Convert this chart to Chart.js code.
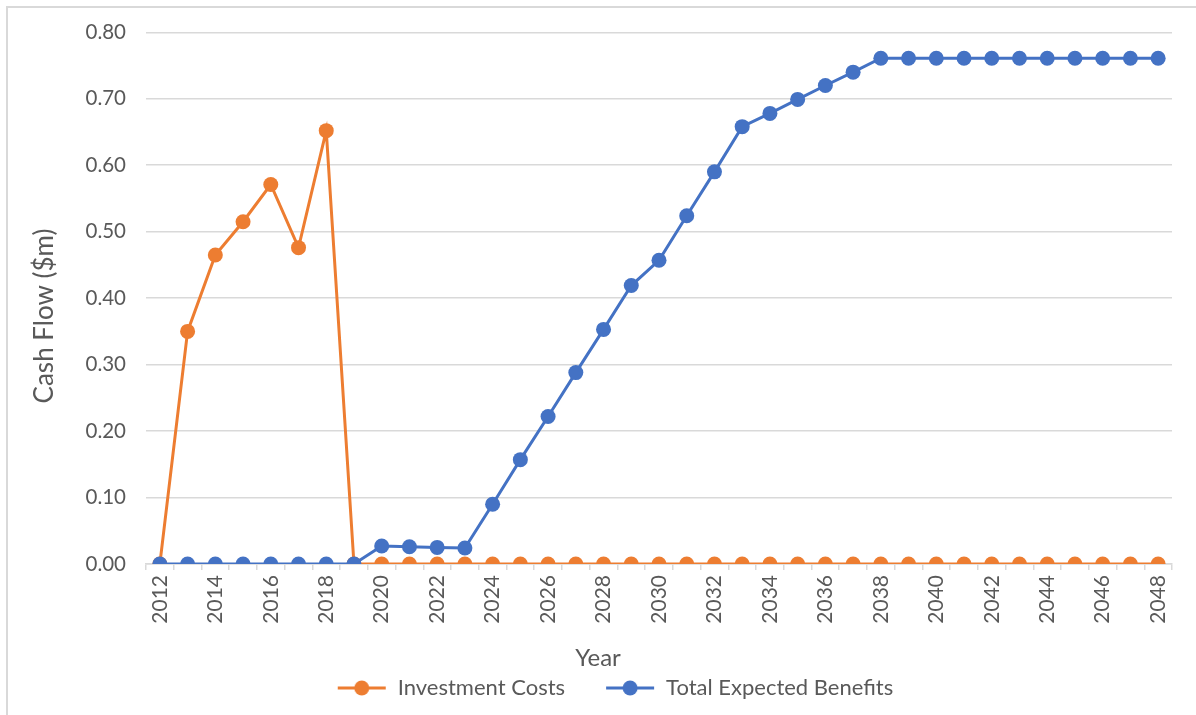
<!DOCTYPE html>
<html>
<head>
<meta charset="utf-8">
<script src="https://cdn.jsdelivr.net/npm/chart.js@4"></script>
<style>
  html, body { margin: 0; padding: 0; background: #fff; overflow: hidden; }
  #wrap { position: relative; width: 1196px; height: 715px; }
  #frame { position: absolute; left: 6px; top: 6px; width: 1400px; height: 900px; border: 2px solid #d9d9d9; box-sizing: border-box; }
  canvas { position: absolute; left: 0; top: 0; }
</style>
</head>
<body>
<div id="wrap">
  <div id="frame"></div>
  <canvas id="c" width="1196" height="715"></canvas>
</div>
<script>
const years = ["2012","2013","2014","2015","2016","2017","2018","2019","2020","2021","2022","2023","2024","2025","2026","2027","2028","2029","2030","2031","2032","2033","2034","2035","2036","2037","2038","2039","2040","2041","2042","2043","2044","2045","2046","2047","2048"];
const investmentCosts = [0, 0.350, 0.465, 0.515, 0.571, 0.476, 0.652, 0, 0, 0, 0, 0, 0, 0, 0, 0, 0, 0, 0, 0, 0, 0, 0, 0, 0, 0, 0, 0, 0, 0, 0, 0, 0, 0, 0, 0, 0];
const totalExpectedBenefits = [0, 0, 0, 0, 0, 0, 0, 0, 0.027, 0.026, 0.025, 0.024, 0.090, 0.157, 0.222, 0.288, 0.353, 0.419, 0.457, 0.524, 0.590, 0.658, 0.678, 0.699, 0.720, 0.740, 0.761, 0.761, 0.761, 0.761, 0.761, 0.761, 0.761, 0.761, 0.761, 0.761, 0.761];
const yTicks = ["0.00","0.10","0.20","0.30","0.40","0.50","0.60","0.70","0.80"];
const xTitle = 'Year';
const yTitle = 'Cash Flow ($m)';

const ORANGE = '#ED7D31';
const BLUE = '#4472C4';
const TEXT = '#595959';
const GRID = '#d9d9d9';
const FONT = 'Lato, "Open Sans", sans-serif';

function legendIcon(color) {
  const cv = document.createElement('canvas');
  cv.width = 80; cv.height = 16;
  const g = cv.getContext('2d');
  g.strokeStyle = color; g.lineWidth = 3;
  g.beginPath(); g.moveTo(31, 8); g.lineTo(79, 8); g.stroke();
  g.fillStyle = color;
  g.beginPath(); g.arc(55, 8, 7.5, 0, Math.PI * 2); g.fill();
  return cv;
}
const icons = [legendIcon(ORANGE), legendIcon(BLUE)];

const axisTitles = {
  id: 'axisTitles',
  afterDraw(chart) {
    const ctx = chart.ctx;
    ctx.save();
    ctx.fillStyle = TEXT;
    ctx.textAlign = 'center';
    ctx.textBaseline = 'middle';
    ctx.font = '24px ' + FONT;
    ctx.fillText(xTitle, 598, 658);
    ctx.translate(45, 316);
    ctx.rotate(-Math.PI / 2);
    ctx.font = '26px ' + FONT;
    ctx.fillText(yTitle, 0, 0);
    ctx.restore();
  }
};

new Chart(document.getElementById('c'), {
  type: 'line',
  data: {
    labels: years,
    datasets: [
      { label: 'Investment Costs', data: investmentCosts, borderColor: ORANGE, backgroundColor: ORANGE,
        borderWidth: 3, pointRadius: 7.5, pointHoverRadius: 7.5, pointBorderWidth: 0, tension: 0, order: 1 },
      { label: 'Total Expected Benefits', data: totalExpectedBenefits, borderColor: BLUE, backgroundColor: BLUE,
        borderWidth: 3, pointRadius: 7.5, pointHoverRadius: 7.5, pointBorderWidth: 0, tension: 0, order: 0 }
    ]
  },
  plugins: [axisTitles],
  options: {
    responsive: false,
    animation: false,
    layout: { padding: { left: 28, right: 24, top: 26, bottom: 6 } },
    plugins: {
      tooltip: { enabled: false },
      legend: {
        position: 'bottom',
        labels: {
          color: TEXT,
          font: { family: FONT, size: 22 },
          usePointStyle: true,
          pointStyleWidth: 80,
          padding: 10,
          generateLabels: (chart) => chart.data.datasets.map((ds, i) => ({
            text: ds.label, fillStyle: ds.borderColor, strokeStyle: ds.borderColor,
            fontColor: TEXT, pointStyle: icons[i], datasetIndex: i, hidden: false, lineWidth: 0
          }))
        }
      }
    },
    scales: {
      x: {
        offset: true,
        grid: { offset: true, drawOnChartArea: false, drawTicks: true, tickLength: 6, color: GRID, lineWidth: 1.5 },
        border: { color: GRID, width: 1.5 },
        ticks: {
          color: TEXT, font: { family: FONT, size: 21 }, autoSkip: false,
          maxRotation: 90, minRotation: 90, padding: 5,
          callback: function(v, i) { return i % 2 === 0 ? years[i] : ''; }
        },
        title: { display: false },
        afterFit: (s) => { s.height = 103; }
      },
      y: {
        min: 0, max: 0.8,
        grid: { color: GRID, lineWidth: 1.5, drawTicks: false },
        border: { display: false },
        ticks: {
          stepSize: 0.1, color: TEXT, font: { family: FONT, size: 20.5 }, padding: 20,
          callback: function(v, i) { return yTicks[i]; }
        },
        title: { display: false },
        afterFit: (s) => { s.width = 118; }
      }
    }
  }
});
</script>
</body>
</html>
